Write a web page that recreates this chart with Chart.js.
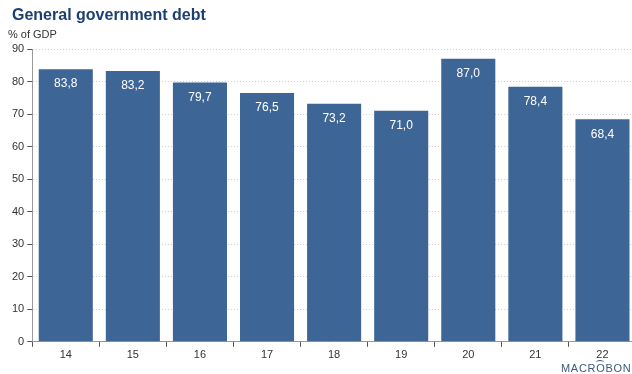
<!DOCTYPE html>
<html>
<head>
<meta charset="utf-8">
<script src="https://cdn.jsdelivr.net/npm/chart.js@4"></script>
<style>
  body { margin: 0; background: #fff; font-family: "Liberation Sans", Arial, sans-serif; }
  #wrap { position: relative; width: 632px; height: 374px; overflow: hidden; }
  #title { position: absolute; left: 12px; top: 6px; font-size: 16px; font-weight: bold; color: #1b3f73; }
  #unit { position: absolute; left: 8px; top: 28px; font-size: 11px; color: #333; }
  #logo { position: absolute; left: 561px; top: 363px; font-size: 11px; line-height: 11px; color: #3d5a80; letter-spacing: 0.7px; }
  #logo .hat { position: relative; }
  #logo .hat::before { content: ''; position: absolute; left: 0px; top: -2px; width: 8px; height: 4px;
    border-top: 1px solid #3d5a80; border-radius: 50% 50% 0 0; }
  canvas { position: absolute; left: 0; top: 0; }
</style>
</head>
<body>
<div id="wrap">
  <canvas id="myChart" width="640" height="374"></canvas>
  <div id="title">General government debt</div>
  <div id="unit">% of GDP</div>
  <div id="logo">MACR<span class="hat">O</span>BON</div>
</div>
<script>
const years = ['14', '15', '16', '17', '18', '19', '20', '21', '22'];
const debt = [83.8, 83.2, 79.7, 76.5, 73.2, 71.0, 87.0, 78.4, 68.4];
const yTicks = [0, 10, 20, 30, 40, 50, 60, 70, 80, 90];

// labels inside top of each bar
const barLabels = {
  id: 'barLabels',
  afterDatasetsDraw(chart) {
    const ctx = chart.ctx;
    const meta = chart.getDatasetMeta(0);
    ctx.save();
    ctx.fillStyle = '#ffffff';
    ctx.font = '12px "Liberation Sans", Arial, sans-serif';
    ctx.textAlign = 'center';
    ctx.textBaseline = 'middle';
    meta.data.forEach((bar, i) => {
      ctx.fillText(debt[i].toFixed(1).replace('.', ','), bar.x, bar.y + 15);
    });
    ctx.restore();
  }
};

const ctx = document.getElementById('myChart');
const chart = new Chart(ctx, {
  type: 'bar',
  data: {
    labels: years,
    datasets: [{
      data: debt,
      backgroundColor: '#3d6696',
      borderWidth: 0,
      barPercentage: 0.806,
      categoryPercentage: 1
    }]
  },
  options: {
    responsive: false,
    animation: false,
    layout: { padding: { top: 49, right: 4, left: 9, bottom: 10 } },
    plugins: { legend: { display: false }, tooltip: { enabled: false } },
    scales: {
      x: {
        grid: { offset: true, drawOnChartArea: false, tickLength: 5, color: '#555' },
        border: { color: '#999' },
        ticks: { color: '#333', font: { size: 11, family: '"Liberation Sans", Arial, sans-serif' }, padding: 2 }
      },
      y: {
        min: 0, max: 90,
        afterBuildTicks: (axis) => { axis.ticks = yTicks.map(v => ({ value: v })); },
        grid: { color: '#d0d0d0', tickLength: 5, tickColor: '#555', tickBorderDash: [], lineWidth: 1 },
        border: { color: '#999', dash: [1, 2] },
        ticks: { color: '#333', font: { size: 11, family: '"Liberation Sans", Arial, sans-serif' }, padding: 3 }
      }
    }
  },
  plugins: [barLabels]
});
</script>
</body>
</html>
